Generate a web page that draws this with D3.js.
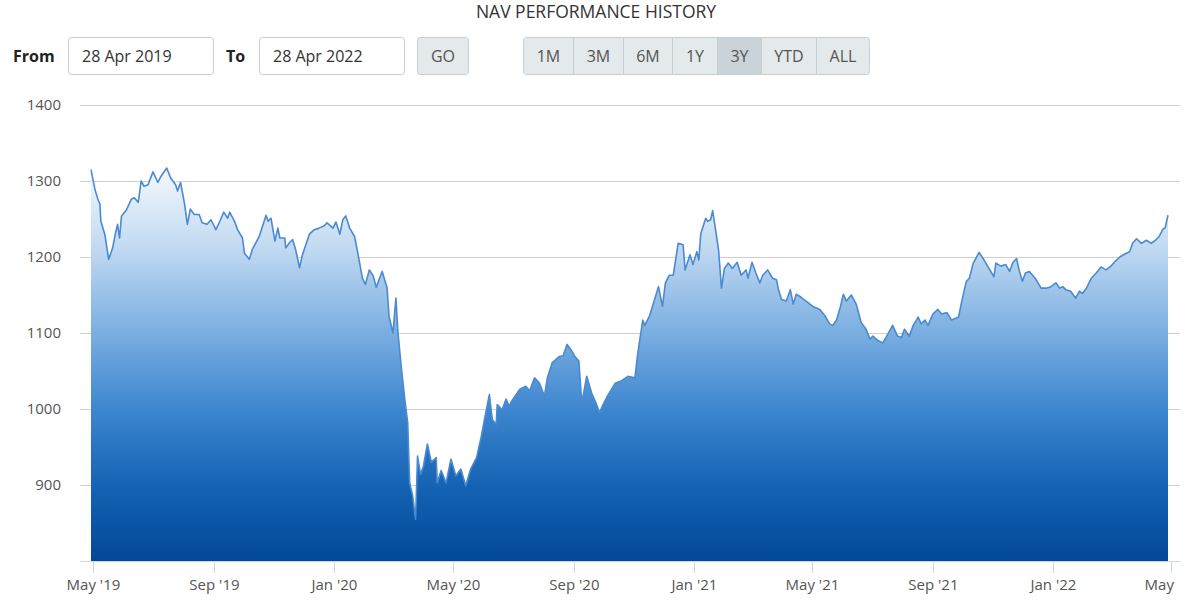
<!DOCTYPE html>
<html>
<head>
<meta charset="utf-8">
<script src="https://cdnjs.cloudflare.com/ajax/libs/d3/7.8.5/d3.min.js"></script>
<style>
  html, body { margin: 0; padding: 0; background: #fff; }
  svg { display: block; font-family: "Open Sans", "Noto Sans", sans-serif; }
</style>
</head>
<body>
<svg id="chart" width="1200" height="610"></svg>
<script>
const chartTitle = "NAV PERFORMANCE HISTORY";
const fromLabel = "From", toLabel = "To";
const fromDate = "28 Apr 2019", toDate = "28 Apr 2022";
const goLabel = "GO";
const rangeButtons = ["1M", "3M", "6M", "1Y", "3Y", "YTD", "ALL"];
const activeRange = "3Y";

const yTicks = [900, 1000, 1100, 1200, 1300, 1400];
const yDomain = [800, 1400];
const xDomain = ["2019-04-29", "2022-04-28"];
const xTicks = ["2019-05-01", "2019-09-01", "2020-01-01", "2020-05-01", "2020-09-01",
  "2021-01-01", "2021-05-01", "2021-09-01", "2022-01-01", "2022-05-01"];

const navDates = [
"2019-04-29","2019-05-03","2019-05-06","2019-05-08","2019-05-09","2019-05-13","2019-05-17","2019-05-21","2019-05-24","2019-05-26",
"2019-05-28","2019-05-30","2019-06-04","2019-06-09","2019-06-12","2019-06-16","2019-06-19","2019-06-22","2019-06-26","2019-07-01",
"2019-07-06","2019-07-09","2019-07-15","2019-07-19","2019-07-24","2019-07-26","2019-07-29","2019-08-02","2019-08-05","2019-08-08",
"2019-08-12","2019-08-17","2019-08-20","2019-08-25","2019-08-29","2019-09-03","2019-09-07","2019-09-11","2019-09-15","2019-09-17",
"2019-09-22","2019-09-25","2019-09-30","2019-10-02","2019-10-07","2019-10-10","2019-10-17","2019-10-24","2019-10-26","2019-10-29",
"2019-11-02","2019-11-05","2019-11-07","2019-11-12","2019-11-13","2019-11-17","2019-11-20","2019-11-23","2019-11-27","2019-11-30",
"2019-12-07","2019-12-12","2019-12-17","2019-12-22","2019-12-25","2019-12-31","2020-01-03","2020-01-07","2020-01-10","2020-01-13",
"2020-01-17","2020-01-22","2020-01-25","2020-01-30","2020-02-02","2020-02-06","2020-02-10","2020-02-13","2020-02-19","2020-02-24",
"2020-02-26","2020-03-01","2020-03-04","2020-03-06","2020-03-09","2020-03-13","2020-03-16","2020-03-18","2020-03-21","2020-03-24",
"2020-03-26","2020-03-29","2020-04-01","2020-04-05","2020-04-09","2020-04-14","2020-04-15","2020-04-19","2020-04-24","2020-04-29",
"2020-05-04","2020-05-09","2020-05-14","2020-05-19","2020-05-25","2020-05-30","2020-06-02","2020-06-07","2020-06-10","2020-06-14",
"2020-06-15","2020-06-20","2020-06-24","2020-06-27","2020-07-01","2020-07-08","2020-07-14","2020-07-18","2020-07-23","2020-07-28",
"2020-08-02","2020-08-05","2020-08-10","2020-08-17","2020-08-21","2020-08-25","2020-08-29","2020-09-02","2020-09-06","2020-09-09",
"2020-09-14","2020-09-19","2020-09-24","2020-09-27","2020-09-30","2020-10-05","2020-10-13","2020-10-19","2020-10-26","2020-11-02",
"2020-11-05","2020-11-10","2020-11-12","2020-11-17","2020-11-22","2020-11-26","2020-11-30","2020-12-03","2020-12-07","2020-12-11",
"2020-12-16","2020-12-21","2020-12-23","2020-12-28","2020-12-31","2021-01-04","2021-01-06","2021-01-08","2021-01-13","2021-01-15",
"2021-01-18","2021-01-20","2021-01-23","2021-01-26","2021-01-29","2021-02-01","2021-02-05","2021-02-09","2021-02-14","2021-02-18",
"2021-02-23","2021-02-25","2021-03-01","2021-03-05","2021-03-09","2021-03-12","2021-03-17","2021-03-22","2021-03-26","2021-03-28",
"2021-03-31","2021-04-05","2021-04-09","2021-04-12","2021-04-15","2021-04-20","2021-04-27","2021-05-02","2021-05-09","2021-05-14",
"2021-05-19","2021-05-22","2021-05-26","2021-05-30","2021-06-02","2021-06-05","2021-06-10","2021-06-15","2021-06-20","2021-06-25",
"2021-06-29","2021-07-02","2021-07-07","2021-07-12","2021-07-16","2021-07-22","2021-07-27","2021-07-31","2021-08-03","2021-08-08",
"2021-08-12","2021-08-17","2021-08-20","2021-08-24","2021-08-27","2021-09-01","2021-09-06","2021-09-10","2021-09-15","2021-09-20",
"2021-09-27","2021-09-30","2021-10-03","2021-10-05","2021-10-08","2021-10-12","2021-10-18","2021-10-23","2021-10-28","2021-11-02",
"2021-11-04","2021-11-09","2021-11-14","2021-11-18","2021-11-21","2021-11-25","2021-11-28","2021-12-01","2021-12-04","2021-12-08",
"2021-12-12","2021-12-15","2021-12-20","2021-12-25","2021-12-30","2022-01-04","2022-01-08","2022-01-11","2022-01-14","2022-01-19",
"2022-01-24","2022-01-28","2022-01-31","2022-02-04","2022-02-09","2022-02-14","2022-02-19","2022-02-24","2022-03-01","2022-03-05",
"2022-03-10","2022-03-15","2022-03-20","2022-03-23","2022-03-27","2022-04-01","2022-04-06","2022-04-11","2022-04-16","2022-04-19",
"2022-04-23","2022-04-25","2022-04-28"];

const navValues = [
1315,1289,1276,1270,1247,1230,1197,1212,1232,1243,
1225,1254,1262,1276,1278,1272,1300,1293,1295,1312,
1298,1306,1317,1304,1295,1287,1298,1271,1243,1263,
1256,1256,1245,1243,1249,1236,1247,1259,1251,1259,
1247,1236,1225,1205,1197,1210,1227,1255,1247,1251,
1221,1238,1225,1225,1212,1219,1223,1210,1186,1203,
1230,1236,1238,1241,1245,1238,1246,1230,1249,1254,
1238,1227,1207,1172,1164,1183,1175,1160,1181,1160,
1122,1100,1146,1102,1061,1013,982,903,886,855,
938,914,925,954,930,936,903,919,903,934,
912,921,899,921,936,965,986,1019,986,980,
1006,999,1013,1004,1013,1026,1030,1024,1041,1034,
1017,1041,1061,1069,1070,1085,1078,1069,1063,1008,
1043,1021,1006,995,1004,1017,1034,1037,1043,1041,
1074,1117,1110,1123,1144,1161,1135,1166,1176,1176,
1218,1216,1183,1203,1190,1207,1196,1231,1251,1247,
1249,1261,1236,1210,1159,1185,1192,1185,1193,1176,
1183,1172,1193,1179,1166,1176,1183,1172,1170,1157,
1144,1142,1157,1138,1151,1147,1140,1135,1131,1123,
1112,1110,1117,1135,1151,1142,1150,1138,1114,1105,
1092,1096,1090,1087,1096,1110,1096,1094,1105,1096,
1110,1121,1112,1117,1110,1125,1131,1125,1127,1117,
1121,1140,1157,1168,1172,1192,1206,1196,1185,1174,
1192,1188,1190,1181,1192,1198,1181,1168,1179,1181,
1175,1170,1159,1159,1161,1166,1159,1161,1157,1155,
1146,1155,1152,1159,1172,1179,1187,1183,1188,1194,
1200,1204,1207,1218,1224,1218,1222,1218,1223,1227,
1237,1238,1255];

const parse = d3.timeParse("%Y-%m-%d");
const data = navDates.map((d, i) => ({ date: parse(d), value: navValues[i] }));

const svg = d3.select("#chart");
const plotLeft = 80, plotRight = 1180;

// Title
svg.append("text").attr("x", 596).attr("y", 18).attr("text-anchor", "middle")
  .attr("font-size", 17.5).attr("fill", "#333").text(chartTitle);

// Controls
const ctl = svg.append("g");
ctl.append("text").attr("x", 13).attr("y", 62).attr("font-size", 16).attr("font-weight", 700)
  .attr("fill", "#222").text(fromLabel);
ctl.append("rect").attr("x", 68.5).attr("y", 37.5).attr("width", 145).attr("height", 37).attr("rx", 3)
  .attr("fill", "#fff").attr("stroke", "#ccc");
ctl.append("text").attr("x", 82).attr("y", 62).attr("font-size", 16).attr("fill", "#333").text(fromDate);
ctl.append("text").attr("x", 226).attr("y", 62).attr("font-size", 16).attr("font-weight", 700)
  .attr("fill", "#222").text(toLabel);
ctl.append("rect").attr("x", 259.5).attr("y", 37.5).attr("width", 145).attr("height", 37).attr("rx", 3)
  .attr("fill", "#fff").attr("stroke", "#ccc");
ctl.append("text").attr("x", 273).attr("y", 62).attr("font-size", 16).attr("fill", "#333").text(toDate);
ctl.append("rect").attr("x", 417.5).attr("y", 37.5).attr("width", 51).attr("height", 37).attr("rx", 3)
  .attr("fill", "#e4e9eb").attr("stroke", "#c6ced2");
ctl.append("text").attr("x", 443).attr("y", 62).attr("text-anchor", "middle").attr("font-size", 16)
  .attr("fill", "#555").text(goLabel);

// Range button group
const btnEdges = [523.5, 573.5, 623.5, 672.5, 717.5, 761.5, 816.5, 869.5];
const grp = svg.append("g");
grp.append("rect").attr("x", btnEdges[0]).attr("y", 37.5).attr("width", btnEdges[7] - btnEdges[0])
  .attr("height", 37).attr("rx", 3).attr("fill", "#e4e9eb").attr("stroke", "#c6ced2");
rangeButtons.forEach((b, i) => {
  if (b === activeRange) {
    grp.append("rect").attr("x", btnEdges[i]).attr("y", 38).attr("width", btnEdges[i + 1] - btnEdges[i])
      .attr("height", 36).attr("fill", "#c9d3d8");
  }
  if (i > 0) {
    grp.append("line").attr("x1", btnEdges[i]).attr("x2", btnEdges[i]).attr("y1", 38).attr("y2", 74)
      .attr("stroke", "#c6ced2");
  }
  grp.append("text").attr("x", (btnEdges[i] + btnEdges[i + 1]) / 2).attr("y", 62)
    .attr("text-anchor", "middle").attr("font-size", 16).attr("fill", "#555").text(b);
});

// Scales
const x = d3.scaleTime().domain(xDomain.map(parse)).range([91, 1168]);
const y = d3.scaleLinear().domain(yDomain).range([561, 105]);

// Grid lines
svg.append("g").selectAll("line").data(yTicks).join("line")
  .attr("x1", plotLeft).attr("x2", plotRight)
  .attr("y1", d => Math.round(y(d)) + 0.5).attr("y2", d => Math.round(y(d)) + 0.5)
  .attr("stroke", "#d0d0d0").attr("stroke-width", 1);

// Y axis labels
const yAxis = d3.axisLeft(y).tickValues(yTicks).tickFormat(d3.format("d")).tickSize(0).tickPadding(0);
const yg = svg.append("g").attr("transform", "translate(61,0)").call(yAxis);
yg.select(".domain").remove();
yg.selectAll("text").attr("font-size", 15).attr("fill", "#555")
  .attr("font-family", "'Open Sans', sans-serif");

// Gradient
const defs = svg.append("defs");
const grad = defs.append("linearGradient").attr("id", "navGrad")
  .attr("gradientUnits", "userSpaceOnUse").attr("x1", 0).attr("x2", 0)
  .attr("y1", y(d3.max(navValues))).attr("y2", y(yDomain[0]));
[[0, "#f4f8fd"], [0.2, "#c2daf2"], [0.42, "#7aaee1"], [0.62, "#3c85ce"], [0.82, "#1361b2"], [1, "#034897"]]
  .forEach(s => grad.append("stop").attr("offset", s[0]).attr("stop-color", s[1]));

defs.append("clipPath").attr("id", "axisClip").append("rect")
  .attr("x", 0).attr("y", 0).attr("width", 1175).attr("height", 610);

// Area + line
const area = d3.area().x(d => x(d.date)).y0(y(yDomain[0])).y1(d => y(d.value));
const line = d3.line().x(d => x(d.date)).y(d => y(d.value));
svg.append("path").datum(data).attr("d", area).attr("fill", "url(#navGrad)");
svg.append("path").datum(data).attr("d", line).attr("fill", "none")
  .attr("stroke", "#4a8ad0").attr("stroke-width", 1.6).attr("stroke-linejoin", "round");

// X axis (tick marks unclipped, labels clipped at the right edge like the reference)
const xAxis = d3.axisBottom(x).tickValues(xTicks.map(parse))
  .tickFormat(d3.timeFormat("%b '%y")).tickSize(12).tickPadding(6).tickSizeOuter(0);
const xWrap = svg.append("g").attr("clip-path", "url(#axisClip)");
const xg = xWrap.append("g").attr("transform", "translate(0,561)").call(xAxis);
xg.select(".domain").remove();
xg.selectAll(".tick line").remove();
xg.selectAll("text").attr("font-size", 15).attr("fill", "#555")
  .attr("font-family", "'Open Sans', sans-serif");
svg.append("g").selectAll("line").data(xTicks.map(parse)).join("line")
  .attr("x1", d => Math.round(x(d)) + 0.5).attr("x2", d => Math.round(x(d)) + 0.5)
  .attr("y1", 561).attr("y2", 573).attr("stroke", "#ccd6eb");
svg.append("line").attr("x1", plotLeft).attr("x2", plotRight).attr("y1", 561.5).attr("y2", 561.5)
  .attr("stroke", "#ccd6eb");
</script>
</body>
</html>
